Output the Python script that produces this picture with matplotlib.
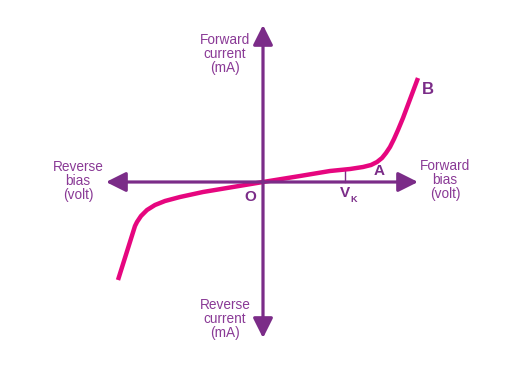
import matplotlib.pyplot as plt

# diode V-I curve, origin O at the centre, units ~ pixels of the original sketch
volt = [-145, -128, -126, -122, -116, -108, -98, -83, -60, -30, 0, 37, 67, 87, 100, 108, 114, 119, 123, 127, 131, 135, 140, 155]
curr = [-98, -44, -40, -34, -28, -23, -19, -15, -10, -5, 0, 6, 11, 13, 15, 17, 20, 24, 29, 35, 43, 52, 64, 104]

v_knee = 82
axis_x = (-157, 155)
axis_y = (-156, 157)

purple = '#7B2C88'
text_purple = '#8A3A96'
pink = '#E6067F'

plt.rcParams['font.family'] = ['Liberation Sans', 'DejaVu Sans']

fig = plt.figure(figsize=(5.22, 3.67), dpi=100)
ax = fig.add_axes([0, 0, 1, 1])
ax.set_xlim(-263, 259)
ax.set_ylim(-185, 182)
ax.axis('off')

arrow = dict(arrowstyle='-|>,head_length=1.0,head_width=0.5', color=purple, lw=2.3,
             mutation_scale=12, shrinkA=0, shrinkB=0)
ax.annotate('', xy=(0, axis_y[1]), xytext=(0, 0), arrowprops=arrow)
ax.annotate('', xy=(0, axis_y[0]), xytext=(0, 0), arrowprops=arrow)
ax.annotate('', xy=(axis_x[1], 0), xytext=(0, 0), arrowprops=arrow)
ax.annotate('', xy=(axis_x[0], 0), xytext=(0, 0), arrowprops=arrow)

# knee voltage tick
ax.plot([v_knee, v_knee], [0, 12], color=purple, lw=1.0)

ax.plot(volt, curr, color=pink, lw=3.2, solid_capstyle='butt', solid_joinstyle='round')

fs = 9.8
ax.text(-38, 128, 'Forward\ncurrent\n(mA)', ha='center', va='center', fontsize=fs,
        color=text_purple, linespacing=1.0)
ax.text(-38, -137, 'Reverse\ncurrent\n(mA)', ha='center', va='center', fontsize=fs,
        color=text_purple, linespacing=1.0)
ax.text(-185, 1, 'Reverse\nbias\n(volt)', ha='center', va='center', fontsize=fs,
        color=text_purple, linespacing=1.0)
ax.text(182, 2, 'Forward\nbias\n(volt)', ha='center', va='center', fontsize=fs,
        color=text_purple, linespacing=1.0)

ax.text(-13, -15, 'O', ha='center', va='center', fontsize=11, fontweight='bold', color=purple)
ax.text(116, 11, 'A', ha='center', va='center', fontsize=11, fontweight='bold', color=purple)
ax.text(165, 92, 'B', ha='center', va='center', fontsize=12, fontweight='bold', color=purple)
ax.text(v_knee, -11, 'V', ha='center', va='center', fontsize=11, fontweight='bold', color=purple)
ax.text(v_knee + 9, -17, 'K', ha='center', va='center', fontsize=6.5, fontweight='bold', color=purple)

fig.savefig('out.png', dpi=100)
